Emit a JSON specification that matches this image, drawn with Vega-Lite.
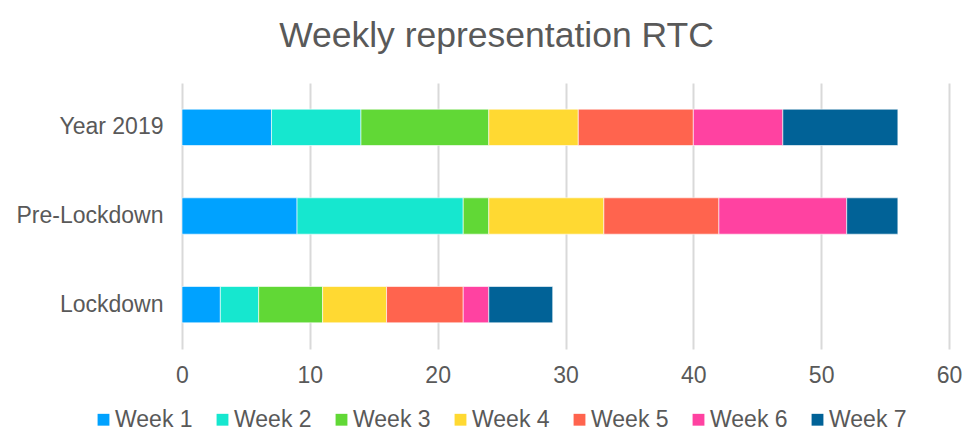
{
  "$schema": "https://vega.github.io/schema/vega-lite/v6.json",
  "autosize": "none",
  "width": 767,
  "height": 266,
  "padding": {"left": 182, "top": 83, "right": 24, "bottom": 84},
  "background": "white",
  "config": {"view": {"stroke": null}, "font": "Liberation Sans"},
  "title": {"text": "Weekly representation RTC", "fontSize": 35.5, "font": "Liberation Sans", "fontWeight": "normal", "color": "#595959", "anchor": "middle", "dx": -69, "offset": 29},
  "data": {"values": [
    {"period": "Year 2019", "week": "Week 1", "value": 7},
    {"period": "Year 2019", "week": "Week 2", "value": 7},
    {"period": "Year 2019", "week": "Week 3", "value": 10},
    {"period": "Year 2019", "week": "Week 4", "value": 7},
    {"period": "Year 2019", "week": "Week 5", "value": 9},
    {"period": "Year 2019", "week": "Week 6", "value": 7},
    {"period": "Year 2019", "week": "Week 7", "value": 9},
    {"period": "Pre-Lockdown", "week": "Week 1", "value": 9},
    {"period": "Pre-Lockdown", "week": "Week 2", "value": 13},
    {"period": "Pre-Lockdown", "week": "Week 3", "value": 2},
    {"period": "Pre-Lockdown", "week": "Week 4", "value": 9},
    {"period": "Pre-Lockdown", "week": "Week 5", "value": 9},
    {"period": "Pre-Lockdown", "week": "Week 6", "value": 10},
    {"period": "Pre-Lockdown", "week": "Week 7", "value": 4},
    {"period": "Lockdown", "week": "Week 1", "value": 3},
    {"period": "Lockdown", "week": "Week 2", "value": 3},
    {"period": "Lockdown", "week": "Week 3", "value": 5},
    {"period": "Lockdown", "week": "Week 4", "value": 5},
    {"period": "Lockdown", "week": "Week 5", "value": 6},
    {"period": "Lockdown", "week": "Week 6", "value": 2},
    {"period": "Lockdown", "week": "Week 7", "value": 5}
  ]},
  "mark": {"type": "bar", "stroke": "white", "strokeWidth": 0.6},
  "encoding": {
    "y": {"field": "period", "type": "nominal", "sort": ["Year 2019", "Pre-Lockdown", "Lockdown"],
      "scale": {"paddingInner": 0.59, "paddingOuter": 0.295},
      "axis": {"title": null, "domain": false, "ticks": false, "labelFontSize": 23, "labelColor": "#595959", "labelPadding": 19, "labelFont": "Liberation Sans"}},
    "x": {"field": "value", "type": "quantitative", "stack": "zero",
      "scale": {"domain": [0, 60], "nice": false},
      "axis": {"title": null, "domain": false, "ticks": false, "values": [0, 10, 20, 30, 40, 50, 60], "grid": true, "gridColor": "#d9d9d9", "gridWidth": 2, "labelFontSize": 23, "labelColor": "#595959", "labelPadding": 15, "labelFont": "Liberation Sans", "labelFlush": false}},
    "color": {"field": "week", "type": "nominal",
      "scale": {"domain": ["Week 1", "Week 2", "Week 3", "Week 4", "Week 5", "Week 6", "Week 7"],
        "range": ["#00A2FF", "#16E7CF", "#61D836", "#FFD932", "#FF644E", "#FF42A1", "#016297"]},
      "legend": {"title": null, "orient": "none", "direction": "horizontal", "legendX": -90, "legendY": 325,
        "symbolType": "square", "symbolSize": 140, "symbolStrokeWidth": 0, "labelFontSize": 23, "labelColor": "#595959", "labelFont": "Liberation Sans", "labelOffset": 0, "columnPadding": 18}},
    "order": {"field": "week", "sort": "ascending"}
  }
}
